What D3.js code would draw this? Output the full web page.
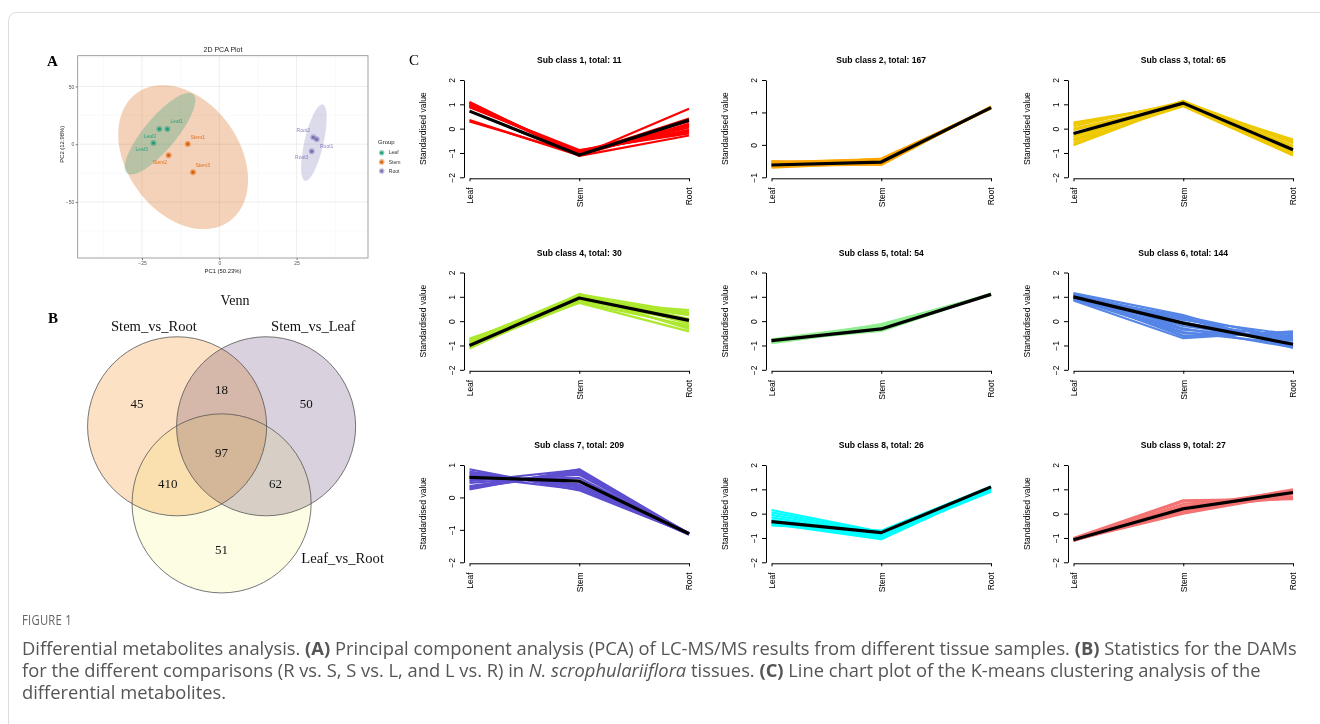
<!DOCTYPE html>
<html>
<head>
<meta charset="utf-8">
<script src="https://cdn.jsdelivr.net/npm/d3@7"></script>
<style>
body { margin: 0; background: #fff; }
svg { display: block; }
</style>
</head>
<body>
<div id="chart"></div>
<script>
// ---- A: PCA scores ----
var pcaSamples = ["Leaf1", "Leaf2", "Leaf3", "Stem1", "Stem2", "Stem3", "Root1", "Root2", "Root3"];
var pcaGroups = ["Leaf", "Leaf", "Leaf", "Stem", "Stem", "Stem", "Root", "Root", "Root"];
var pc1 = [-16.8, -19.4, -21.3, -10.2, -16.4, -8.5, 31.5, 30.4, 29.9];
var pc2 = [13.2, 13.2, 1.1, 0.3, -9.5, -24.2, 4.3, 6.0, -6.1];
var groupNames = ["Leaf", "Stem", "Root"];
var pcaXTicks = [-25, 0, 25];
var pcaYTicks = [-50, 0, 50];

// ---- B: Venn counts ----
var vennSets = ["Stem_vs_Root", "Stem_vs_Leaf", "Leaf_vs_Root"];
var vennRegions = [[0], [1], [2], [0, 1], [0, 2], [1, 2], [0, 1, 2]];
var vennCounts = [45, 50, 51, 18, 410, 62, 97];

// ---- C: K-means clusters ----
var tissues = ["Leaf", "Stem", "Root"];
var clusterTotals = [11, 167, 65, 30, 54, 144, 209, 26, 27];
var clusterYRange = [[-2, 2], [-1, 2], [-2, 2], [-2, 2], [-2, 2], [-2, 2], [-2, 1], [-2, 2], [-2, 2]];
var clusterMeans = [
  [0.72, -1.08, 0.35],
  [-0.62, -0.53, 1.15],
  [-0.20, 1.05, -0.87],
  [-1.00, 0.95, 0.03],
  [-0.80, -0.32, 1.10],
  [1.00, -0.08, -0.95],
  [0.62, 0.50, -1.12],
  [-0.33, -0.78, 1.10],
  [-1.07, 0.20, 0.87]
];
var clusterMembers = [
  [[1.10, -1.10, 0.20], [1.06, -1.06, 0.12], [1.02, -1.02, 0.05], [0.98, -0.98, -0.05], [0.94, -0.94, -0.12],
   [0.90, -0.88, -0.20], [1.08, -1.12, -0.28], [0.35, -1.10, 0.82], [0.30, -1.05, 0.42], [0.95, -1.00, 0.30], [0.88, -0.92, 0.15]],
  [[-0.50, -0.60, 1.16], [-0.55, -0.45, 1.14], [-0.60, -0.62, 1.18], [-0.65, -0.42, 1.12], [-0.70, -0.55, 1.15], [-0.52, -0.50, 1.13],
   [-0.68, -0.48, 1.17], [-0.58, -0.58, 1.15], [-0.62, -0.52, 1.14], [-0.66, -0.60, 1.16], [-0.54, -0.44, 1.13], [-0.64, -0.56, 1.17]],
  [[0.25, 1.00, -0.45], [0.10, 1.10, -0.60], [-0.05, 0.95, -0.75], [-0.20, 1.05, -0.85], [-0.35, 1.15, -0.95], [-0.50, 0.92, -1.10],
   [-0.68, 1.02, -0.70], [-0.45, 1.12, -0.55], [0.00, 0.98, -1.05], [-0.60, 1.08, -0.90], [0.18, 1.04, -1.00], [-0.28, 0.96, -0.50]],
  [[-0.72, 0.80, 0.45], [-0.80, 1.10, 0.35], [-0.88, 0.90, 0.25], [-0.95, 1.05, 0.10], [-1.02, 0.85, 0.00], [-1.08, 1.12, -0.10],
   [-1.12, 0.95, -0.25], [-0.85, 0.75, -0.42], [-0.98, 1.00, 0.30], [-1.05, 0.78, -0.18], [-0.76, 0.98, 0.05], [-0.92, 1.08, -0.32]],
  [[-0.75, -0.15, 1.10], [-0.80, -0.40, 1.12], [-0.85, -0.20, 1.09], [-0.90, -0.30, 1.11], [-0.78, -0.35, 1.13],
   [-0.88, -0.12, 1.08], [-0.82, -0.25, 1.10], [-0.76, -0.38, 1.12], [-0.86, -0.18, 1.11]],
  [[1.15, 0.25, -1.10], [1.10, 0.10, -1.00], [1.05, -0.05, -0.90], [1.00, -0.20, -0.80], [0.95, -0.35, -0.70], [0.90, -0.50, -0.60],
   [0.85, -0.70, -0.42], [1.08, -0.60, -0.50], [0.92, 0.15, -1.05], [1.02, -0.45, -0.95], [0.98, 0.05, -0.55], [1.12, -0.30, -1.08],
   [0.88, -0.10, -0.65], [1.04, -0.62, -0.48], [0.96, 0.20, -0.75]],
  [[0.87, 0.22, -1.12], [0.25, 0.87, -1.12], [0.80, 0.30, -1.10], [0.35, 0.80, -1.14], [0.70, 0.40, -1.12], [0.45, 0.70, -1.11],
   [0.62, 0.50, -1.13], [0.55, 0.60, -1.12], [0.75, 0.35, -1.15], [0.30, 0.75, -1.10], [0.65, 0.25, -1.12], [0.50, 0.85, -1.13]],
  [[0.15, -0.75, 1.00], [0.05, -0.80, 0.95], [-0.05, -0.85, 1.05], [-0.15, -0.90, 0.90], [-0.25, -0.95, 1.10],
   [-0.35, -1.00, 0.98], [-0.42, -1.05, 1.02], [-0.48, -0.70, 1.12], [-0.30, -0.72, 1.08], [-0.40, -0.88, 0.93]],
  [[-1.00, 0.55, 0.62], [-1.05, 0.50, 0.60], [-1.10, 0.40, 0.70], [-1.08, 0.30, 0.95], [-1.12, 0.20, 1.00],
   [-1.02, 0.10, 0.90], [-1.06, 0.05, 0.85], [-1.09, 0.00, 0.80], [-1.04, 0.25, 0.65], [-1.11, 0.15, 0.92]]
];

// styles
var groupColors = { Leaf: "#1B9E77", Stem: "#D95F02", Root: "#7570B3" };
var clusterColors = ["#FF0000", "#FFA500", "#EEC900", "#ADE82F", "#90EE90", "#5585E6", "#5E4FD0", "#00FFFF", "#F47272"];
var vennFills = ["#FCE1C4", "#D9D1DD", "#FDFDE4"];
var sans = "'Liberation Sans', Arial, sans-serif";
var serif = "'Liberation Serif', 'Times New Roman', serif";

var svg = d3.select("#chart").append("svg")
  .attr("width", 1320)
  .attr("height", 724);

svg.append("rect").attr("width", 1320).attr("height", 724).attr("fill", "#fff");
svg.append("rect")
  .attr("x", 8.5).attr("y", 12.5)
  .attr("width", 1400).attr("height", 800)
  .attr("rx", 8)
  .attr("fill", "none")
  .attr("stroke", "#dddddd");

// panel letters
svg.append("text").attr("x", 47).attr("y", 66).text("A")
  .style("font-family", serif).style("font-size", "15px").style("font-weight", "bold");
svg.append("text").attr("x", 48).attr("y", 323).text("B")
  .style("font-family", serif).style("font-size", "15px").style("font-weight", "bold");
svg.append("text").attr("x", 409).attr("y", 65).text("C")
  .style("font-family", serif).style("font-size", "15px");

// ================= A: PCA =================
var pcaX = d3.scaleLinear().domain([-45.8, 48.1]).range([77.7, 368]);
var pcaY = d3.scaleLinear().domain([-98.4, 76.6]).range([258, 55.7]);
var gA = svg.append("g");

var xMinor = pcaXTicks.map(function(t) { return t - 12.5; }).concat([pcaXTicks[pcaXTicks.length - 1] + 12.5]);
var yMinor = pcaYTicks.map(function(t) { return t - 25; }).concat([pcaYTicks[pcaYTicks.length - 1] + 25]);

gA.selectAll(".xminor").data(xMinor).enter().append("line")
  .attr("x1", function(d) { return pcaX(d); }).attr("x2", function(d) { return pcaX(d); })
  .attr("y1", pcaY.range()[0]).attr("y2", pcaY.range()[1])
  .attr("stroke", "#f3f3f3").attr("stroke-width", 0.5);
gA.selectAll(".yminor").data(yMinor).enter().append("line")
  .attr("y1", function(d) { return pcaY(d); }).attr("y2", function(d) { return pcaY(d); })
  .attr("x1", pcaX.range()[0]).attr("x2", pcaX.range()[1])
  .attr("stroke", "#f3f3f3").attr("stroke-width", 0.5);
gA.selectAll(".xmajor").data(pcaXTicks).enter().append("line")
  .attr("x1", function(d) { return pcaX(d); }).attr("x2", function(d) { return pcaX(d); })
  .attr("y1", pcaY.range()[0]).attr("y2", pcaY.range()[1])
  .attr("stroke", "#e6e6e6").attr("stroke-width", 0.7);
gA.selectAll(".ymajor").data(pcaYTicks).enter().append("line")
  .attr("y1", function(d) { return pcaY(d); }).attr("y2", function(d) { return pcaY(d); })
  .attr("x1", pcaX.range()[0]).attr("x2", pcaX.range()[1])
  .attr("stroke", "#e6e6e6").attr("stroke-width", 0.7);

// confidence ellipses from the sample scores
var ellipseRadius = 5.05;
function ellipsePath(g) {
  var idx = d3.range(pc1.length).filter(function(i) { return pcaGroups[i] == g; });
  var xs = idx.map(function(i) { return pc1[i]; });
  var ys = idx.map(function(i) { return pc2[i]; });
  var mx = d3.mean(xs), my = d3.mean(ys), n = xs.length;
  var sxx = d3.sum(xs, function(v) { return (v - mx) * (v - mx); }) / (n - 1);
  var syy = d3.sum(ys, function(v) { return (v - my) * (v - my); }) / (n - 1);
  var sxy = d3.sum(idx, function(i, k) { return (xs[k] - mx) * (ys[k] - my); }) / (n - 1);
  var l11 = Math.sqrt(sxx), l21 = sxy / l11, l22 = Math.sqrt(syy - l21 * l21);
  var pts = d3.range(0, 121).map(function(k) {
    var t = k / 120 * 2 * Math.PI;
    return [pcaX(mx + ellipseRadius * l11 * Math.cos(t)),
            pcaY(my + ellipseRadius * (l21 * Math.cos(t) + l22 * Math.sin(t)))];
  });
  return d3.line()(pts) + "Z";
}
["Stem", "Leaf", "Root"].forEach(function(g) {
  gA.append("path")
    .attr("d", ellipsePath(g))
    .attr("fill", groupColors[g])
    .attr("fill-opacity", g == "Root" ? 0.25 : 0.28)
    .attr("stroke", "none");
});

// points + labels
var labelDx = [9.3, -9.3, -11.7, 10, -8.7, 9.7, 10, -10, -10];
var labelDy = [-7.3, 7, 6.3, -7, 6.7, -6.7, 6.7, -7.3, 6.3];
gA.selectAll(".pt-halo").data(pcaSamples).enter().append("circle")
  .attr("cx", function(d, i) { return pcaX(pc1[i]); })
  .attr("cy", function(d, i) { return pcaY(pc2[i]); })
  .attr("r", 3)
  .attr("fill", function(d, i) { return groupColors[pcaGroups[i]]; })
  .attr("fill-opacity", 0.45);
gA.selectAll(".pt").data(pcaSamples).enter().append("circle")
  .attr("cx", function(d, i) { return pcaX(pc1[i]); })
  .attr("cy", function(d, i) { return pcaY(pc2[i]); })
  .attr("r", 1.6)
  .attr("fill", function(d, i) { return groupColors[pcaGroups[i]]; });
gA.selectAll(".ptlab").data(pcaSamples).enter().append("text")
  .attr("x", function(d, i) { return pcaX(pc1[i]) + labelDx[i]; })
  .attr("y", function(d, i) { return pcaY(pc2[i]) + labelDy[i]; })
  .attr("dy", "0.35em")
  .attr("text-anchor", "middle")
  .text(function(d) { return d; })
  .style("font-family", sans).style("font-size", "5px")
  .style("fill", function(d, i) { return groupColors[pcaGroups[i]]; })
  .style("fill-opacity", 0.85);

// panel border
gA.append("rect")
  .attr("x", pcaX.range()[0]).attr("y", pcaY.range()[1])
  .attr("width", pcaX.range()[1] - pcaX.range()[0])
  .attr("height", pcaY.range()[0] - pcaY.range()[1])
  .attr("fill", "none").attr("stroke", "#8a8a8a").attr("stroke-width", 0.8);

// axes
var axA1 = gA.append("g").attr("transform", "translate(0," + pcaY.range()[0] + ")")
  .call(d3.axisBottom(pcaX).tickValues(pcaXTicks).tickSize(2).tickSizeOuter(0).tickPadding(1.5));
var axA2 = gA.append("g").attr("transform", "translate(" + pcaX.range()[0] + ",0)")
  .call(d3.axisLeft(pcaY).tickValues(pcaYTicks).tickSize(2).tickSizeOuter(0).tickPadding(1.5));
[axA1, axA2].forEach(function(a) {
  a.select(".domain").remove();
  a.selectAll("line").attr("stroke", "#777");
  a.selectAll("text").style("font-family", sans).style("font-size", "5px").style("fill", "#555");
});

gA.append("text").attr("x", 223).attr("y", 51.5).attr("text-anchor", "middle").text("2D PCA Plot")
  .style("font-family", sans).style("font-size", "7px").style("fill", "#222");
gA.append("text").attr("x", 223).attr("y", 272.5).attr("text-anchor", "middle").text("PC1 (50.23%)")
  .style("font-family", sans).style("font-size", "5.9px").style("fill", "#222");
gA.append("text").attr("transform", "translate(64.3," + pcaY(0) + ") rotate(-90)")
  .attr("text-anchor", "middle").text("PC2 (12.98%)")
  .style("font-family", sans).style("font-size", "5.9px").style("fill", "#222");

// legend
gA.append("text").attr("x", 378).attr("y", 143.7).text("Group")
  .style("font-family", sans).style("font-size", "6px").style("fill", "#222");
var leg = gA.selectAll(".leg").data(groupNames).enter().append("g")
  .attr("transform", function(d, i) { return "translate(381.7," + (152.7 + i * 9.2) + ")"; });
leg.append("circle").attr("r", 2.8).attr("fill", function(d) { return groupColors[d]; }).attr("fill-opacity", 0.45);
leg.append("circle").attr("r", 1.5).attr("fill", function(d) { return groupColors[d]; });
leg.append("text").attr("x", 7).attr("dy", "0.35em").text(function(d) { return d; })
  .style("font-family", sans).style("font-size", "5.1px").style("fill", "#333");

// ================= B: Venn =================
var vennUnit = 89;
var vx = d3.scaleLinear().domain([0, 1]).range([221.6, 221.6 + vennUnit]);
var vy = d3.scaleLinear().domain([0, 1]).range([426.3, 426.3 + vennUnit]);
var vennCenters = [[-0.5, 0], [0.5, 0], [0, Math.sqrt(3) / 2]];
var vennR = 1.006;
var gB = svg.append("g");

gB.selectAll(".vfill").data(vennSets).enter().append("circle")
  .attr("cx", function(d, i) { return vx(vennCenters[i][0]); })
  .attr("cy", function(d, i) { return vy(vennCenters[i][1]); })
  .attr("r", vx(vennR) - vx(0))
  .attr("fill", function(d, i) { return vennFills[i]; })
  .style("mix-blend-mode", "multiply");
gB.selectAll(".vline").data(vennSets).enter().append("circle")
  .attr("cx", function(d, i) { return vx(vennCenters[i][0]); })
  .attr("cy", function(d, i) { return vy(vennCenters[i][1]); })
  .attr("r", vx(vennR) - vx(0))
  .attr("fill", "none").attr("stroke", "#555").attr("stroke-width", 0.8);

// region label positions from circle geometry
var gx = d3.mean(vennCenters, function(c) { return c[0]; });
var gy = d3.mean(vennCenters, function(c) { return c[1]; });
function regionPos(r) {
  var mx = d3.mean(r, function(k) { return vennCenters[k][0]; });
  var my = d3.mean(r, function(k) { return vennCenters[k][1]; });
  if (r.length == 3) return [gx, gy];
  var dx = mx - gx, dy = my - gy, len = Math.sqrt(dx * dx + dy * dy);
  var push = r.length == 1 ? 0.52 : 0.41;
  return [mx + push * dx / len, my + push * dy / len];
}
gB.selectAll(".vcount").data(vennCounts).enter().append("text")
  .attr("x", function(d, i) { return vx(regionPos(vennRegions[i])[0]); })
  .attr("y", function(d, i) { return vy(regionPos(vennRegions[i])[1]); })
  .attr("dy", "0.35em")
  .attr("text-anchor", "middle")
  .text(function(d) { return d; })
  .style("font-family", serif).style("font-size", "13px").style("fill", "#111");

var vennLabelPos = [[-0.76, -1.13], [1.03, -1.13], [1.36, 1.48]];
gB.selectAll(".vset").data(vennSets).enter().append("text")
  .attr("x", function(d, i) { return vx(vennLabelPos[i][0]); })
  .attr("y", function(d, i) { return vy(vennLabelPos[i][1]); })
  .attr("dy", "0.35em")
  .attr("text-anchor", "middle")
  .text(function(d) { return d; })
  .style("font-family", serif).style("font-size", "14.6px").style("fill", "#111");
gB.append("text").attr("x", 235).attr("y", 304.5).attr("text-anchor", "middle").text("Venn")
  .style("font-family", serif).style("font-size", "14px").style("fill", "#111");

// ================= C: K-means line charts =================
clusterTotals.forEach(function(total, i) {
  var col = i % 3, row = Math.floor(i / 3);
  var leafX = 469.5 + col * 302;
  var top = 80 + row * 192.5, bottom = top + 97.3;
  var x = d3.scalePoint().domain(tissues).range([leafX, leafX + 219.5]);
  var y = d3.scaleLinear().domain(clusterYRange[i]).range([bottom, top]);
  var g = svg.append("g");
  var line = d3.line()
    .x(function(d, k) { return x(tissues[k]); })
    .y(function(d) { return y(d); });

  g.selectAll(".member").data(clusterMembers[i]).enter().append("path")
    .attr("d", line)
    .attr("fill", "none")
    .attr("stroke", clusterColors[i])
    .attr("stroke-width", 2.2)
    .attr("stroke-linejoin", "round");
  g.append("path").datum(clusterMeans[i])
    .attr("d", line)
    .attr("fill", "none")
    .attr("stroke", "#000")
    .attr("stroke-width", 3.2)
    .attr("stroke-linejoin", "round");

  var yTicks = d3.range(clusterYRange[i][0], clusterYRange[i][1] + 1);
  var ay = g.append("g").attr("transform", "translate(" + (leafX - 5.5) + ",0)")
    .call(d3.axisLeft(y).tickValues(yTicks).tickSize(4).tickSizeOuter(0).tickFormat(d3.format("d")));
  ay.selectAll("text")
    .attr("x", 0).attr("dy", 0)
    .attr("transform", "translate(-9,0) rotate(-90)")
    .attr("text-anchor", "middle");
  var ax = g.append("g").attr("transform", "translate(0," + (bottom + 1) + ")")
    .call(d3.axisBottom(x).tickSize(3).tickSizeOuter(0));
  ax.selectAll("text")
    .attr("y", 0).attr("dy", "0.35em")
    .attr("transform", "translate(0,9) rotate(-90)")
    .attr("text-anchor", "end");
  [ay, ax].forEach(function(a) {
    a.select(".domain").attr("stroke", "#000").attr("stroke-width", 1);
    a.selectAll("line").attr("stroke", "#000");
    a.selectAll("text").style("font-family", sans).style("font-size", "8.5px").style("fill", "#000");
  });

  g.append("text")
    .attr("transform", "translate(" + (leafX - 46.6) + "," + ((top + bottom) / 2) + ") rotate(-90)")
    .attr("dy", "0.35em")
    .attr("text-anchor", "middle")
    .text("Standardised value")
    .style("font-family", sans).style("font-size", "8.5px");
  g.append("text")
    .attr("x", x("Stem")).attr("y", top - 17)
    .attr("text-anchor", "middle")
    .text("Sub class " + (i + 1) + ", total: " + total)
    .style("font-family", sans).style("font-size", "8.6px").style("font-weight", "bold");
});

// ================= caption =================
var figLabel = svg.append("text").text("FIGURE 1")
  .style("font-family", "'Open Sans', sans-serif").style("font-size", "14px")
  .style("fill", "#666").style("letter-spacing", "0.3px");
figLabel.attr("transform", "translate(22,625) scale(" + (50 / figLabel.node().getComputedTextLength()) + ",1)");

var captionLines = [
  [["Differential metabolites analysis. ", ""], ["(A)", "b"], [" Principal component analysis (PCA) of LC-MS/MS results from different tissue samples. ", ""], ["(B)", "b"], [" Statistics for the DAMs", ""]],
  [["for the different comparisons (R vs. S, S vs. L, and L vs. R) in ", ""], ["N. scrophulariiflora", "i"], [" tissues. ", ""], ["(C)", "b"], [" Line chart plot of the K-means clustering analysis of the", ""]],
  [["differential metabolites.", ""]]
];
var capTexts = captionLines.map(function(parts, li) {
  var t = svg.append("text")
    .style("font-family", "'Open Sans', sans-serif").style("font-size", "17.5px").style("fill", "#555");
  parts.forEach(function(p) {
    t.append("tspan").text(p[0])
      .style("font-weight", p[1] == "b" ? "bold" : "normal")
      .style("font-style", p[1] == "i" ? "italic" : "normal");
  });
  return t;
});
var capScale = 1276 / capTexts[0].node().getComputedTextLength();
capTexts.forEach(function(t, li) {
  t.attr("transform", "translate(22," + (655 + li * 22) + ") scale(" + capScale + ",1)");
});
</script>
</body>
</html>
